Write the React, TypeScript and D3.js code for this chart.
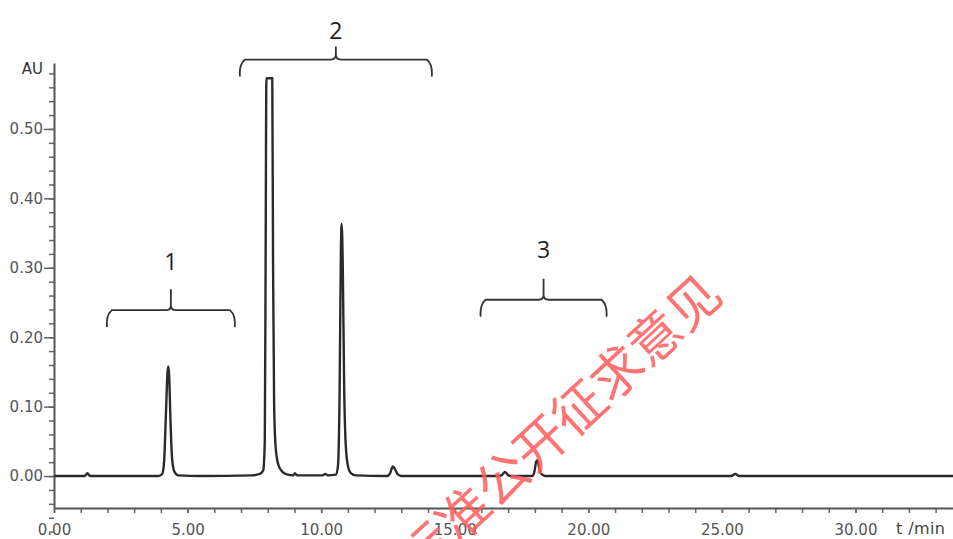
import * as d3 from 'd3';
import React, { useEffect } from 'react';

// chromatogram trace: [time (min), absorbance (AU)]
const tracePoints: [number, number][] = [
  [0, 0.0], [1.15, 0.0], [1.25, 0.004], [1.35, 0.0], [3.9, 0.0],
  [4.05, 0.003], [4.12, 0.02], [4.19, 0.09], [4.25, 0.15], [4.28, 0.158], [4.31, 0.145],
  [4.36, 0.08], [4.42, 0.025], [4.5, 0.007], [4.65, 0.001], [5.5, 0.0],
  [7.4, 0.001], [7.7, 0.003], [7.83, 0.008], [7.89, 0.05], [7.92, 0.3], [7.95, 0.573],
  [8.17, 0.573], [8.2, 0.3], [8.24, 0.1], [8.3, 0.04], [8.4, 0.016], [8.55, 0.006],
  [8.75, 0.002], [8.95, 0.001], [9.02, 0.004], [9.1, 0.001], [10.05, 0.001], [10.15, 0.003],
  [10.25, 0.001], [10.55, 0.002], [10.63, 0.015], [10.69, 0.12], [10.74, 0.33], [10.77, 0.363],
  [10.81, 0.3], [10.86, 0.13], [10.92, 0.045], [11.0, 0.015], [11.12, 0.004], [11.3, 0.001],
  [12.45, 0.0], [12.58, 0.004], [12.68, 0.014], [12.76, 0.01], [12.86, 0.003], [13.0, 0.0],
  [16.65, 0.0], [16.78, 0.002], [16.88, 0.006], [16.98, 0.002], [17.1, 0.0],
  [17.9, 0.0], [17.98, 0.006], [18.05, 0.021], [18.1, 0.023], [18.16, 0.012], [18.24, 0.003],
  [18.4, 0.0], [25.35, 0.0], [25.5, 0.003], [25.65, 0.0], [33.65, 0.0],
];

const xMajorTicks = [0, 5, 10, 15, 20, 25, 30];
const xMinorTicks = d3.range(0, 34, 1);
const yMajorTicks = [0, 0.1, 0.2, 0.3, 0.4, 0.5];
const yMinorTicks = d3.range(-4, 30, 1).map(d => d * 0.02);

// peak groups marked with braces
const groupLabels = ['1', '2', '3'];
const groupStart = [1.98, 6.96, 15.97];
const groupEnd = [6.77, 14.14, 20.68];
const groupLevel = [0.239, 0.6, 0.254];
const groupLabelLevel = [0.3085, 0.642, 0.3258];
const groupTip = [21, 13, 21];

const watermark = '标准公开征求意见';

export default function App() {
  const ref = React.useRef<SVGSVGElement>(null);

  useEffect(() => {
    if (!ref.current) return;
    document.body.style.margin = '0';
    const svg = d3.select(ref.current);
    svg.selectAll('*').remove();

    const x = d3.scaleLinear().domain([0, 33.65]).range([54, 953]);
    const y = d3.scaleLinear().domain([-0.046, 0.595]).range([508, 63]);

    const font = '"DejaVu Sans", sans-serif';

    // minor ticks
    svg
      .append('g')
      .attr('transform', 'translate(0,508)')
      .call(d3.axisBottom(x).tickValues(xMinorTicks).tickSize(5).tickFormat(() => ''))
      .call(g => g.select('.domain').remove())
      .call(g => g.selectAll('line').attr('stroke', '#666').attr('stroke-width', 1.5));
    svg
      .append('g')
      .attr('transform', 'translate(54,0)')
      .call(d3.axisLeft(y).tickValues(yMinorTicks).tickSize(5).tickFormat(() => ''))
      .call(g => g.select('.domain').remove())
      .call(g => g.selectAll('line').attr('stroke', '#666').attr('stroke-width', 1.5));

    // major ticks + labels
    const xAxis = svg
      .append('g')
      .attr('transform', 'translate(0,508)')
      .call(
        d3.axisBottom(x).tickValues(xMajorTicks).tickSize(5).tickSizeOuter(0).tickPadding(11).tickFormat(d3.format('.2f'))
      );
    const yAxis = svg
      .append('g')
      .attr('transform', 'translate(54,0)')
      .call(
        d3.axisLeft(y).tickValues(yMajorTicks).tickSize(10).tickSizeOuter(0).tickPadding(1).tickFormat(d3.format('.2f'))
      );
    [xAxis, yAxis].forEach(g => {
      g.select('.domain').attr('stroke', '#555').attr('stroke-width', 2);
      g.selectAll('line').attr('stroke', '#666').attr('stroke-width', 1.5);
      g.selectAll('text').attr('fill', '#555').style('font-family', font).style('font-size', '15px');
    });

    svg
      .append('text')
      .attr('x', 43)
      .attr('y', 74)
      .attr('text-anchor', 'end')
      .attr('fill', '#333')
      .style('font-family', font)
      .style('font-size', '15px')
      .text('AU');
    svg
      .append('text')
      .attr('x', 896)
      .attr('y', 534)
      .attr('fill', '#444')
      .style('font-family', font)
      .style('font-size', '16px')
      .style('letter-spacing', '0.4px')
      .text('t /min');

    // trace
    const line = d3
      .line<[number, number]>()
      .x(d => x(d[0]))
      .y(d => y(d[1]))
      .curve(d3.curveMonotoneX);
    svg
      .append('path')
      .datum(tracePoints)
      .attr('d', line)
      .attr('fill', 'none')
      .attr('stroke', '#2a2a2a')
      .attr('stroke-width', 2.4)
      .attr('stroke-linejoin', 'round');

    // braces
    const r = 5;
    const drop = 17;
    groupLabels.forEach((label, i) => {
      const x0 = x(groupStart[i]);
      const x1 = x(groupEnd[i]);
      const xc = (x0 + x1) / 2;
      const yl = y(groupLevel[i]);
      const tip = groupTip[i];
      const p = d3.path();
      p.moveTo(x0, yl + drop);
      p.quadraticCurveTo(x0 - 1, yl + r, x0 + r, yl);
      p.lineTo(xc - r, yl);
      p.quadraticCurveTo(xc, yl, xc, yl - r);
      p.lineTo(xc, yl - tip);
      p.moveTo(xc, yl - r);
      p.quadraticCurveTo(xc, yl, xc + r, yl);
      p.lineTo(x1 - r, yl);
      p.quadraticCurveTo(x1 + 1, yl + r, x1, yl + drop);
      svg
        .append('path')
        .attr('d', p.toString())
        .attr('fill', 'none')
        .attr('stroke', '#333')
        .attr('stroke-width', 1.8);
      svg
        .append('text')
        .attr('x', xc)
        .attr('y', y(groupLabelLevel[i]))
        .attr('dy', '0.36em')
        .attr('text-anchor', 'middle')
        .attr('fill', '#222')
        .style('font-family', '"Open Sans", sans-serif')
        .style('font-size', '23px')
        .text(label);
    });

    // watermark (runs off the bottom edge, as in the source)
    svg
      .append('text')
      .attr('transform', 'translate(710,282) rotate(-42.7)')
      .attr('text-anchor', 'end')
      .attr('dominant-baseline', 'central')
      .attr('fill', '#ff5a5a')
      .attr('fill-opacity', 0.85)
      .style('font-family', '"Noto Sans CJK SC", sans-serif')
      .style('font-size', '52px')
      .text(watermark);
  }, []);

  return <svg ref={ref} width={953} height={539} style={{ display: 'block', background: '#fff' }} />;
}
